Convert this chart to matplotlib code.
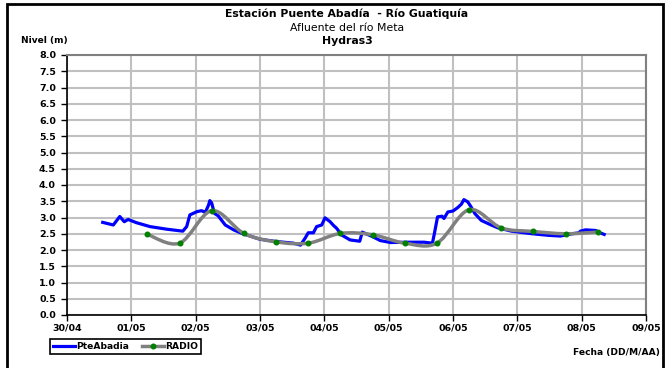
import numpy as np
import matplotlib
matplotlib.use("Agg")
import matplotlib.pyplot as plt
from matplotlib.path import Path
from matplotlib.patches import PathPatch, Rectangle
from matplotlib.lines import Line2D

plt.rcParams['font.family'] = ['DejaVu Sans']

# days counted from 30/04 00:00
tick_labels = ["30/04", "01/05", "02/05", "03/05", "04/05", "05/05",
               "06/05", "07/05", "08/05", "09/05"]

blue_day = [0.555, 0.72, 0.82, 0.89, 0.95, 1.08, 1.29, 1.55, 1.80, 1.86, 1.91,
            2.02, 2.09, 2.15, 2.20, 2.22, 2.25, 2.29, 2.35, 2.46, 2.59, 2.72,
            3.00, 3.26, 3.52, 3.63, 3.70, 3.75, 3.83, 3.88, 3.96, 4.01, 4.09,
            4.14, 4.19, 4.27, 4.40, 4.55, 4.59, 4.67, 4.74, 4.87, 5.03, 5.29,
            5.55, 5.68, 5.71, 5.76, 5.83, 5.86, 5.92, 6.00, 6.07, 6.13, 6.17,
            6.23, 6.28, 6.34, 6.44, 6.57, 6.70, 6.91, 7.23, 7.49, 7.67, 7.85,
            7.96, 7.98, 8.06, 8.22, 8.27, 8.35]
blue_val = [2.85, 2.77, 3.03, 2.87, 2.94, 2.84, 2.72, 2.64, 2.58, 2.72, 3.08,
            3.18, 3.21, 3.16, 3.38, 3.52, 3.44, 3.13, 3.05, 2.77, 2.62, 2.51,
            2.33, 2.26, 2.21, 2.15, 2.36, 2.53, 2.53, 2.72, 2.77, 2.99, 2.87,
            2.76, 2.67, 2.46, 2.31, 2.27, 2.55, 2.48, 2.42, 2.29, 2.23, 2.24,
            2.24, 2.21, 2.50, 3.02, 3.04, 2.97, 3.17, 3.20, 3.30, 3.41, 3.55,
            3.48, 3.33, 3.12, 2.91, 2.79, 2.68, 2.58, 2.50, 2.45, 2.43, 2.50,
            2.53, 2.58, 2.62, 2.60, 2.54, 2.48]

radio_day = [1.25, 1.75, 2.25, 2.75, 3.25, 3.75, 4.25, 4.75, 5.25, 5.75,
             6.25, 6.75, 7.25, 7.75, 8.25]
radio_val = [2.48, 2.21, 3.21, 2.51, 2.25, 2.21, 2.51, 2.47, 2.21, 2.21,
             3.24, 2.68, 2.57, 2.50, 2.55]


def smooth_path(xs, ys):
    # excel-like smoothed line: catmull-rom as cubic bezier segments
    pts = np.column_stack([xs, ys])
    n = len(pts)
    verts = [pts[0]]
    codes = [Path.MOVETO]
    for i in range(n - 1):
        p0 = pts[max(i - 1, 0)]
        p1 = pts[i]
        p2 = pts[i + 1]
        p3 = pts[min(i + 2, n - 1)]
        c1 = p1 + (p2 - p0) / 6.0
        c2 = p2 - (p3 - p1) / 6.0
        verts += [c1, c2, p2]
        codes += [Path.CURVE4] * 3
    return Path(verts, codes)


fig = plt.figure(figsize=(6.66, 3.68), dpi=100)
fig.patches.append(Rectangle((7 / 666, -0.05), 656 / 666, 1.05 - 4 / 368,
                             transform=fig.transFigure, fill=False,
                             edgecolor='black', linewidth=2))

ax = fig.add_axes([67 / 666, 1 - 315 / 368, 579 / 666, 260 / 368])
ax.set_xlim(0, 9)
ax.set_ylim(0, 8)
ax.set_xticks(range(10))
ax.set_xticklabels(tick_labels)
ax.set_yticks(np.arange(0, 8.01, 0.5))
ax.set_yticklabels([f"{v:.1f}" for v in np.arange(0, 8.01, 0.5)])
ax.grid(True, color='#c0c0c0', linewidth=1.5)
ax.set_axisbelow(True)
for s in ['top', 'right']:
    ax.spines[s].set_color('#808080')
    ax.spines[s].set_linewidth(1.5)
for s in ['left', 'bottom']:
    ax.spines[s].set_color('black')
    ax.spines[s].set_linewidth(1.2)
ax.tick_params(axis='both', direction='out', length=4, width=1,
               labelsize=6.8, pad=2)
ax.tick_params(axis='y', pad=4)
for lab in ax.get_xticklabels() + ax.get_yticklabels():
    lab.set_fontweight('bold')

ax.plot(blue_day, blue_val, color='#0000ff', linewidth=2.3,
        solid_joinstyle='round', zorder=3)
ax.add_patch(PathPatch(smooth_path(radio_day, radio_val), fill=False,
                       edgecolor='#808080', linewidth=2.5, zorder=4))
ax.plot(radio_day, radio_val, linestyle='none', marker='o', markersize=3.3,
        color='#008000', zorder=5)

fig.text(0.521, 1 - 14 / 368, "Estación Puente Abadía  - Río Guatiquía",
         ha='center', va='center', fontsize=7.8, fontweight='bold')
fig.text(0.521, 1 - 28 / 368, "Afluente del río Meta",
         ha='center', va='center', fontsize=7.8)
fig.text(0.521, 1 - 41 / 368, "Hydras3",
         ha='center', va='center', fontsize=7.8, fontweight='bold')
fig.text(21 / 666, 1 - 40 / 368, "Nivel (m)", ha='left', va='center',
         fontsize=6.5, fontweight='bold')
fig.text(660 / 666, 1 - 352 / 368, "Fecha (DD/M/AA)", ha='right',
         va='center', fontsize=6.6, fontweight='bold')

handles = [Line2D([], [], color='#0000ff', linewidth=2.3),
           Line2D([], [], color='#808080', linewidth=2.5, marker='o',
                  markersize=3.3, markerfacecolor='#008000',
                  markeredgecolor='#008000')]
leg = fig.legend(handles, ["PteAbadia", "RADIO"], loc='upper left',
                 bbox_to_anchor=(50 / 666, 1 - 339 / 368), ncol=2,
                 fancybox=False, edgecolor='black', framealpha=1,
                 prop={'size': 6.6, 'weight': 'bold'}, handlelength=2.4,
                 handletextpad=0.1, columnspacing=1.4, borderpad=0.35,
                 borderaxespad=0)
leg.get_frame().set_linewidth(1.2)

fig.savefig("out.png", dpi=100)
